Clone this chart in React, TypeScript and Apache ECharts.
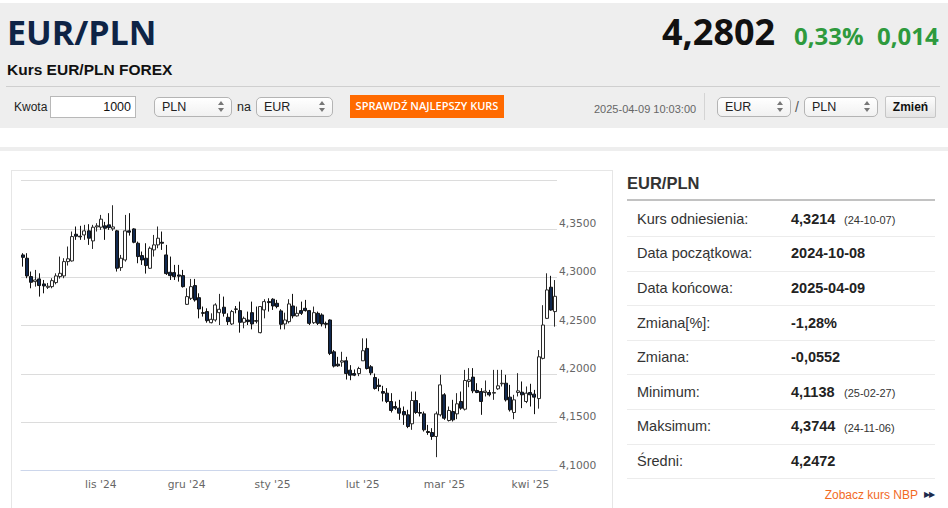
import React, { useEffect, useRef } from "react";
import * as echarts from "echarts";

// Trading days shown on the chart (weekdays, 25 Dec and 1 Jan missing)
const OCT_2024 = [7, 8, 9, 10, 11, 14, 15, 16, 17, 18, 21, 22, 23, 24, 25, 28, 29, 30, 31];
const NOV_2024 = [1, 4, 5, 6, 7, 8, 11, 12, 13, 14, 15, 18, 19, 20, 21, 22, 25, 26, 27, 28, 29];
const DEC_2024 = [2, 3, 4, 5, 6, 9, 10, 11, 12, 13, 16, 17, 18, 19, 20, 23, 24, 26, 27, 30, 31];
const JAN_2025 = [2, 3, 6, 7, 8, 9, 10, 13, 14, 15, 16, 17, 20, 21, 22, 23, 24, 27, 28, 29, 30, 31];
const FEB_2025 = [3, 4, 5, 6, 7, 10, 11, 12, 13, 14, 17, 18, 19, 20, 21, 24, 25, 26, 27, 28];
const MAR_2025 = [3, 4, 5, 6, 7, 10, 11, 12, 13, 14, 17, 18, 19, 20, 21, 24, 25, 26, 27, 28, 31];
const APR_2025 = [1, 2, 3, 4, 7, 8, 9];

const MONTH_ABBR = ["sty", "lut", "mar", "kwi", "maj", "cze", "lip", "sie", "wrz", "paź", "lis", "gru"];

const pad = (n: number) => String(n).padStart(2, "0");
const DATES: string[] = [
  ...OCT_2024.map((d) => `2024-10-${pad(d)}`),
  ...NOV_2024.map((d) => `2024-11-${pad(d)}`),
  ...DEC_2024.map((d) => `2024-12-${pad(d)}`),
  ...JAN_2025.map((d) => `2025-01-${pad(d)}`),
  ...FEB_2025.map((d) => `2025-02-${pad(d)}`),
  ...MAR_2025.map((d) => `2025-03-${pad(d)}`),
  ...APR_2025.map((d) => `2025-04-${pad(d)}`),
];

const OPEN = [
  4.3230, 4.3196, 4.3006, 4.2954, 4.2982, 4.2930, 4.2895, 4.2902, 4.2944, 4.3006,
  4.3013, 4.3161, 4.3168, 4.3444, 4.3424, 4.3437, 4.3479, 4.3375, 4.3520, 4.3517,
  4.3531, 4.3541, 4.3500, 4.3479, 4.3099, 4.3178, 4.3479, 4.3499, 4.3351, 4.3223,
  4.3196, 4.3092, 4.3282, 4.3334, 4.3361, 4.3230, 4.3051, 4.3047, 4.3023, 4.3016,
  4.2719, 4.2781, 4.2913, 4.2788, 4.2633, 4.2644, 4.2529, 4.2557, 4.2633, 4.2689,
  4.2585, 4.2516, 4.2671, 4.2654, 4.2533, 4.2557, 4.2633, 4.2550, 4.2426, 4.2661,
  4.2747, 4.2772, 4.2730, 4.2651, 4.2516, 4.2540, 4.2702, 4.2599, 4.2654, 4.2678,
  4.2654, 4.2529, 4.2626, 4.2609, 4.2522, 4.2557, 4.2228, 4.2100, 4.2121, 4.2135,
  4.2038, 4.2003, 4.2003, 4.2135, 4.2263, 4.2073, 4.1962, 4.1882, 4.1817, 4.1800,
  4.1714, 4.1662, 4.1645, 4.1610, 4.1576, 4.1483, 4.1724, 4.1600, 4.1586, 4.1403,
  4.1393, 4.1352, 4.1576, 4.1783, 4.1517, 4.1610, 4.1586, 4.1714, 4.1634, 4.1921,
  4.1966, 4.1828, 4.1817, 4.1807, 4.1807, 4.1800, 4.1845, 4.1897, 4.1903, 4.1759,
  4.1600, 4.1807, 4.1810, 4.1714, 4.1807, 4.1790, 4.1744, 4.2160, 4.2574, 4.2896,
  4.2644,
];
const CLOSE = [
  4.3205, 4.3013, 4.2947, 4.2971, 4.2913, 4.2909, 4.2906, 4.2964, 4.3013, 4.3040,
  4.3161, 4.3190, 4.3420, 4.3424, 4.3417, 4.3479, 4.3403, 4.3517, 4.3531, 4.3600,
  4.3506, 4.3513, 4.3520, 4.3092, 4.3196, 4.3479, 4.3465, 4.3361, 4.3213, 4.3178,
  4.3120, 4.3299, 4.3334, 4.3403, 4.3351, 4.3037, 4.3016, 4.3006, 4.3010, 4.2902,
  4.2799, 4.2902, 4.2764, 4.2671, 4.2626, 4.2550, 4.2564, 4.2713, 4.2668, 4.2626,
  4.2540, 4.2644, 4.2668, 4.2533, 4.2574, 4.2540, 4.2516, 4.2545, 4.2696, 4.2747,
  4.2737, 4.2702, 4.2696, 4.2512, 4.2557, 4.2723, 4.2599, 4.2626, 4.2626, 4.2654,
  4.2522, 4.2633, 4.2522, 4.2516, 4.2512, 4.2211, 4.2080, 4.2083, 4.2135, 4.2003,
  4.1986, 4.1986, 4.2055, 4.2239, 4.2055, 4.2010, 4.1848, 4.1870, 4.1800, 4.1714,
  4.1621, 4.1645, 4.1593, 4.1576, 4.1455, 4.1724, 4.1600, 4.1593, 4.1421, 4.1393,
  4.1352, 4.1586, 4.1886, 4.1541, 4.1621, 4.1524, 4.1690, 4.1645, 4.1931, 4.1938,
  4.1824, 4.1807, 4.1714, 4.1821, 4.1783, 4.1807, 4.1876, 4.1903, 4.1731, 4.1628,
  4.1731, 4.1824, 4.1783, 4.1800, 4.1783, 4.1759, 4.2176, 4.2505, 4.2868, 4.2660,
  4.2802,
];
const LOW = [
  4.3109, 4.2989, 4.2885, 4.2902, 4.2799, 4.2833, 4.2878, 4.2885, 4.2926, 4.2985,
  4.2989, 4.3120, 4.3161, 4.3386, 4.3386, 4.3386, 4.3334, 4.3292, 4.3472, 4.3489,
  4.3386, 4.3489, 4.3479, 4.3058, 4.3065, 4.3161, 4.3430, 4.3351, 4.3144, 4.3127,
  4.3037, 4.3085, 4.3213, 4.3299, 4.3282, 4.3023, 4.2971, 4.2971, 4.2954, 4.2892,
  4.2712, 4.2764, 4.2747, 4.2574, 4.2592, 4.2529, 4.2522, 4.2540, 4.2505, 4.2592,
  4.2505, 4.2505, 4.2626, 4.2426, 4.2471, 4.2505, 4.2460, 4.2522, 4.2419, 4.2574,
  4.2644, 4.2661, 4.2678, 4.2460, 4.2460, 4.2522, 4.2574, 4.2592, 4.2609, 4.2644,
  4.2505, 4.2516, 4.2505, 4.2490, 4.2471, 4.2194, 4.2066, 4.2073, 4.2073, 4.1941,
  4.1934, 4.1976, 4.1976, 4.2135, 4.2045, 4.1986, 4.1837, 4.1820, 4.1714, 4.1697,
  4.1600, 4.1628, 4.1524, 4.1472, 4.1438, 4.1421, 4.1586, 4.1559, 4.1403, 4.1369,
  4.1317, 4.1138, 4.1559, 4.1524, 4.1507, 4.1507, 4.1531, 4.1628, 4.1621, 4.1862,
  4.1800, 4.1800, 4.1576, 4.1766, 4.1766, 4.1731, 4.1834, 4.1869, 4.1714, 4.1610,
  4.1531, 4.1766, 4.1645, 4.1697, 4.1662, 4.1583, 4.1640, 4.2150, 4.2567, 4.2653,
  4.2488,
];
const HIGH = [
  4.3248, 4.3248, 4.3058, 4.3075, 4.3040, 4.2971, 4.2940, 4.2989, 4.3040, 4.3213,
  4.3196, 4.3317, 4.3472, 4.3524, 4.3531, 4.3541, 4.3548, 4.3541, 4.3558, 4.3644,
  4.3572, 4.3662, 4.3744, 4.3489, 4.3230, 4.3644, 4.3662, 4.3506, 4.3368, 4.3265,
  4.3351, 4.3317, 4.3437, 4.3524, 4.3472, 4.3334, 4.3213, 4.3127, 4.3127, 4.3075,
  4.2885, 4.2982, 4.2982, 4.2833, 4.2696, 4.2678, 4.2626, 4.2730, 4.2827, 4.2799,
  4.2626, 4.2661, 4.2702, 4.2747, 4.2592, 4.2644, 4.2747, 4.2696, 4.2702, 4.2772,
  4.2782, 4.2782, 4.2765, 4.2668, 4.2633, 4.2772, 4.2827, 4.2696, 4.2747, 4.2765,
  4.2661, 4.2696, 4.2644, 4.2626, 4.2540, 4.2564, 4.2246, 4.2176, 4.2228, 4.2176,
  4.2090, 4.2045, 4.2073, 4.2367, 4.2367, 4.2090, 4.2003, 4.1950, 4.1876, 4.1852,
  4.1800, 4.1714, 4.1731, 4.1662, 4.1628, 4.1817, 4.1817, 4.1697, 4.1610, 4.1472,
  4.1438, 4.1610, 4.1990, 4.1800, 4.1662, 4.1731, 4.1800, 4.1817, 4.2041, 4.2059,
  4.2059, 4.1903, 4.1852, 4.1931, 4.1834, 4.2041, 4.2041, 4.2041, 4.1990, 4.1886,
  4.1783, 4.2007, 4.1921, 4.1869, 4.1897, 4.1834, 4.2246, 4.2710, 4.3040, 4.3014,
  4.2970,
];

const Y_MIN = 4.1;
const Y_MAX = 4.4;
const Y_STEP = 0.05;

const TABLE_LABELS = [
  "Kurs odniesienia:",
  "Data początkowa:",
  "Data końcowa:",
  "Zmiana[%]:",
  "Zmiana:",
  "Minimum:",
  "Maksimum:",
  "Średni:",
];
const TABLE_VALUES = ["4,3214", "2024-10-08", "2025-04-09", "-1,28%", "-0,0552", "4,1138", "4,3744", "4,2472"];
const TABLE_NOTES = ["(24-10-07)", "", "", "", "", "(25-02-27)", "(24-11-06)", ""];

const ARIAL = "'Liberation Sans', Arial, sans-serif";
const OPEN_SANS = "'Open Sans', sans-serif";
const CHART_FONT = "'DejaVu Sans', sans-serif";

function abs(left: number, top: number, extra: React.CSSProperties = {}): React.CSSProperties {
  return { position: "absolute", left, top, ...extra };
}

function Select({ left, top, width, label }: { left: number; top: number; width: number; label: string }) {
  return (
    <div
      style={abs(left, top, {
        width,
        height: 20,
        boxSizing: "border-box",
        border: "1px solid #b4b4b4",
        borderRadius: 5,
        background: "linear-gradient(#ffffff, #f1f1f1)",
      })}
    >
      <div style={abs(7, 0, { lineHeight: "18px", fontSize: 12.5, fontFamily: ARIAL, color: "#222" })}>{label}</div>
      <div
        style={abs(width - 15, 3, {
          width: 0,
          height: 0,
          borderLeft: "3px solid transparent",
          borderRight: "3px solid transparent",
          borderBottom: "4px solid #777",
        })}
      />
      <div
        style={abs(width - 15, 10, {
          width: 0,
          height: 0,
          borderLeft: "3px solid transparent",
          borderRight: "3px solid transparent",
          borderTop: "4px solid #777",
        })}
      />
    </div>
  );
}

function CandleChart() {
  const ref = useRef<HTMLDivElement>(null);
  useEffect(() => {
    if (!ref.current) return;
    const chart = echarts.init(ref.current, null, { renderer: "svg" });
    const isMonthStart = (i: number) => i > 0 && DATES[i].slice(0, 7) !== DATES[i - 1].slice(0, 7);
    const data = OPEN.map((o, i) => [o, CLOSE[i], LOW[i], HIGH[i]]);
    chart.setOption({
      animation: false,
      grid: { left: 9, top: 9.5, width: 536, height: 290, containLabel: false },
      xAxis: {
        type: "category",
        data: DATES,
        boundaryGap: true,
        axisLine: { lineStyle: { color: "#ccd6eb", width: 1 } },
        axisTick: {
          alignWithLabel: true,
          interval: (i: number) => isMonthStart(i),
          length: 7,
          lineStyle: { color: "#ccd6eb" },
        },
        axisLabel: {
          interval: (i: number) => isMonthStart(i),
          formatter: (v: string) => `${MONTH_ABBR[parseInt(v.slice(5, 7), 10) - 1]} '${v.slice(2, 4)}`,
          color: "#666666",
          fontSize: 10.7,
          fontFamily: CHART_FONT,
          margin: 8,
        },
        splitLine: { show: false },
      },
      yAxis: {
        type: "value",
        position: "right",
        min: Y_MIN,
        max: Y_MAX,
        interval: Y_STEP,
        axisLine: { show: false },
        axisTick: { show: false },
        splitLine: { lineStyle: { color: "#dcdcdc", width: 1 } },
        axisLabel: {
          showMaxLabel: false,
          formatter: (v: number) => v.toFixed(4).replace(".", ","),
          color: "#666666",
          fontSize: 10.7,
          fontFamily: CHART_FONT,
          verticalAlign: "bottom",
          margin: 2,
        },
      },
      series: [
        {
          type: "candlestick",
          data,
          barWidth: 3.5,
          itemStyle: {
            color: "#ffffff",
            color0: "#10284f",
            borderColor: "#2a2a2a",
            borderColor0: "#111111",
            borderWidth: 1,
          },
        },
      ],
    });
    return () => chart.dispose();
  }, []);
  return <div ref={ref} style={abs(12, 171, { width: 600, height: 330 })} />;
}

export default function App() {
  const rowTop = 218.7;
  const rowStep = 34.6;
  return (
    <div
      style={{
        position: "absolute",
        left: 0,
        top: 0,
        width: 948,
        height: 508,
        overflow: "hidden",
        background: "#ffffff",
        fontFamily: ARIAL,
      }}
    >
      {/* header band */}
      <div style={abs(0, 3, { width: 948, height: 125, background: "#eeeeee" })} />
      <div
        style={abs(7, 12, {
          lineHeight: "40px",
          fontSize: 34,
          fontWeight: 700,
          fontFamily: OPEN_SANS,
          color: "#0e2446",
          whiteSpace: "nowrap",
        })}
      >
        EUR/PLN
      </div>
      <div
        style={abs(7, 60, { lineHeight: "20px", fontSize: 15.5, fontWeight: 700, color: "#111", whiteSpace: "nowrap" })}
      >
        Kurs EUR/PLN FOREX
      </div>
      <div
        style={abs(662, 12, {
          lineHeight: "40px",
          fontSize: 36,
          fontWeight: 700,
          fontFamily: OPEN_SANS,
          color: "#111",
          whiteSpace: "nowrap",
        })}
      >
        4,2802
      </div>
      <div
        style={abs(794, 21, {
          lineHeight: "30px",
          fontSize: 24,
          fontWeight: 700,
          fontFamily: OPEN_SANS,
          color: "#2e9a3d",
          whiteSpace: "nowrap",
        })}
      >
        0,33%
      </div>
      <div
        style={abs(877, 21, {
          lineHeight: "30px",
          fontSize: 24,
          fontWeight: 700,
          fontFamily: OPEN_SANS,
          color: "#2e9a3d",
          whiteSpace: "nowrap",
        })}
      >
        0,014
      </div>
      <div style={abs(6, 86, { width: 934, height: 1, background: "#cfcfcf" })} />

      {/* controls row */}
      <div style={abs(14, 97, { lineHeight: "20px", fontSize: 12, color: "#222" })}>Kwota</div>
      <div
        style={abs(50, 96, {
          width: 86,
          height: 22,
          boxSizing: "border-box",
          border: "1px solid #b8b8b8",
          background: "#fff",
          textAlign: "right",
          paddingRight: 4,
          lineHeight: "20px",
          fontSize: 12.5,
          color: "#111",
        })}
      >
        1000
      </div>
      <Select left={154} top={97} width={78} label="PLN" />
      <div style={abs(237, 97, { lineHeight: "20px", fontSize: 12.5, color: "#222" })}>na</div>
      <Select left={256} top={97} width={77} label="EUR" />
      <div
        style={abs(350, 95, {
          width: 154,
          height: 23,
          background: "#ff6a00",
          color: "#fff",
          textAlign: "center",
          lineHeight: "22px",
          fontSize: 11,
          fontWeight: 600,
          fontFamily: OPEN_SANS,
          whiteSpace: "nowrap",
        })}
      >
        SPRAWDŹ NAJLEPSZY KURS
      </div>
      <div style={abs(594, 98.5, { lineHeight: "20px", fontSize: 11, color: "#666", whiteSpace: "nowrap" })}>
        2025-04-09 10:03:00
      </div>
      <div style={abs(704, 93, { width: 1, height: 27, background: "#d4d4d4" })} />
      <Select left={717} top={97} width={74} label="EUR" />
      <div style={abs(795, 97, { lineHeight: "20px", fontSize: 14, color: "#555" })}>/</div>
      <Select left={804} top={97} width={74} label="PLN" />
      <div
        style={abs(885, 96, {
          width: 51,
          height: 22,
          boxSizing: "border-box",
          border: "1px solid #c6c6c6",
          borderRadius: 2,
          background: "linear-gradient(#fdfdfd, #e4e4e4)",
          textAlign: "center",
          lineHeight: "20px",
          fontSize: 12,
          fontWeight: 700,
          color: "#111",
        })}
      >
        Zmień
      </div>

      {/* separator band */}
      <div style={abs(0, 147, { width: 948, height: 4, background: "#eeeeee" })} />

      {/* chart box */}
      <div
        style={abs(11, 170, {
          width: 602,
          height: 360,
          boxSizing: "border-box",
          border: "1px solid #e6e6e6",
        })}
      />
      <CandleChart />

      {/* right table */}
      <div style={abs(627, 172.5, { lineHeight: "20px", fontSize: 16.5, fontWeight: 700, color: "#333" })}>
        EUR/PLN
      </div>
      <div style={abs(627, 199, { width: 308, height: 2, background: "#c2c2c2" })} />
      {TABLE_LABELS.map((label, i) => {
        const cy = rowTop + i * rowStep;
        return (
          <React.Fragment key={label}>
            <div style={abs(637, cy - 10, { lineHeight: "20px", fontSize: 14.5, color: "#333", whiteSpace: "nowrap" })}>
              {label}
            </div>
            <div
              style={abs(791, cy - 10, {
                lineHeight: "20px",
                fontSize: 14.5,
                fontWeight: 700,
                color: "#222",
                whiteSpace: "nowrap",
              })}
            >
              {TABLE_VALUES[i]}
            </div>
            {TABLE_NOTES[i] ? (
              <div style={abs(844, cy - 8.5, { lineHeight: "20px", fontSize: 11, color: "#333", whiteSpace: "nowrap" })}>
                {TABLE_NOTES[i]}
              </div>
            ) : null}
            <div style={abs(627, cy + 17.3, { width: 308, height: 1, background: "#ececec" })} />
          </React.Fragment>
        );
      })}
      <div
        style={abs(700, 485, {
          width: 218,
          textAlign: "right",
          lineHeight: "20px",
          fontSize: 12,
          color: "#f26a1f",
          whiteSpace: "nowrap",
        })}
      >
        Zobacz kurs NBP
      </div>
      <div style={abs(924, 485, { lineHeight: "20px", fontSize: 8, color: "#1d2b4c", letterSpacing: -1 })}>▶▶</div>
    </div>
  );
}
